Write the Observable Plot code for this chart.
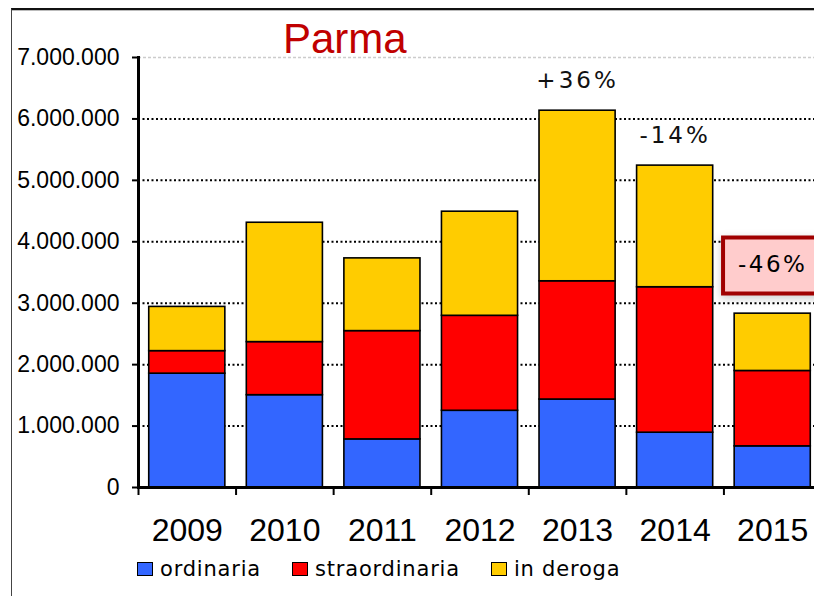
<!DOCTYPE html>
<html>
<head>
<meta charset="utf-8">
<script src="https://cdn.jsdelivr.net/npm/d3@7"></script>
<script src="https://cdn.jsdelivr.net/npm/@observablehq/plot@0.6"></script>
<style>
  html, body { margin: 0; padding: 0; background: #fff; }
  body { width: 814px; height: 596px; position: relative; overflow: hidden; }
  #frame { position: absolute; left: 11px; top: 8px; width: 900px; height: 700px;
           border-top: 2px solid #111; border-left: 1px solid #444; box-shadow: inset 0 1px 0 #bbb; }
  #chart { position: absolute; left: 0; top: 0; }
  #title { position: absolute; left: 283px; top: 18px; font: 42px/42px "Liberation Sans", Arial, sans-serif; color: #C00000; }
  #legend { position: absolute; left: 137px; top: 559px; display: flex; gap: 31px;
            font: 21px/21px "DejaVu Sans", sans-serif; letter-spacing: 0.8px; color: #000; }
  .item { display: flex; align-items: flex-start; }
  .sw { width: 14px; height: 12px; border: 1.5px solid #000; margin-top: 3px; margin-right: 7px; }
  #chart [aria-label="text"] text { letter-spacing: 3px; }
  #chart [aria-label="tip"] text { letter-spacing: 2.5px; }
  #chart g[aria-label="tip"] { filter: none !important; }
</style>
</head>
<body>
<div id="frame"></div>
<div id="chart"></div>
<div id="title">Parma</div>
<div id="legend"></div>
<script>
const years = ["2009", "2010", "2011", "2012", "2013", "2014", "2015"];
const seriesNames = ["ordinaria", "straordinaria", "in deroga"];
const seriesColors = ["#3366FF", "#FF0000", "#FFCC00"];
const ordinaria     = [1853000, 1503000,  783000, 1249000, 1432000,  892000,  670000];
const straordinaria = [ 367000,  864000, 1763000, 1546000, 1925000, 2368000, 1227000];
const inDeroga      = [ 720000, 1943000, 1184000, 1695000, 2777000, 1980000,  933000];
const yTicks = [0, 1000000, 2000000, 3000000, 4000000, 5000000, 6000000, 7000000];
const changeYears = ["2013", "2014"];
const changeLabels = ["+36%", "-14%"];
const highlightYear = "2015";
const highlightLabel = "-46%";

const seriesValues = [ordinaria, straordinaria, inDeroga];
const rows = [];
seriesNames.forEach((s, i) => years.forEach((y, j) => rows.push({year: y, serie: s, value: seriesValues[i][j]})));
const total = y => { const j = years.indexOf(y); return ordinaria[j] + straordinaria[j] + inDeroga[j]; };
const changes = changeYears.map((y, i) => ({year: y, total: total(y), label: changeLabels[i]}));
const highlight = [{year: highlightYear, total: total(highlightYear), label: highlightLabel}];

const fmt = d3.formatLocale({decimal: ",", thousands: ".", grouping: [3], currency: ["", ""]}).format(",");

const W = 814, H = 560, mL = 138, mR = -7;
const step = (W - mR - mL) / years.length;

const plot = Plot.plot({
  width: W, height: H,
  marginTop: 57, marginBottom: 73, marginLeft: mL, marginRight: mR,
  style: {fontFamily: "'Liberation Sans', Arial, sans-serif", color: "#000", background: "transparent", overflow: "visible"},
  x: {domain: years, paddingInner: 0.22, paddingOuter: 0.11, round: false, label: null},
  y: {domain: [0, 7000000], label: null},
  color: {domain: seriesNames, range: seriesColors},
  marks: [
    Plot.ruleY(yTicks.filter(d => d > 0 && d < 7000000), {stroke: "#000", strokeWidth: 2, strokeDasharray: "2,2.5"}),
    Plot.ruleY([7000000], {stroke: "#ccc", strokeWidth: 1.5, strokeDasharray: "3,2"}),
    Plot.barY(rows, {x: "year", y: "value", fill: "serie", stroke: "#000", strokeWidth: 1.6, order: seriesNames}),
    Plot.axisY({ticks: yTicks, tickFormat: fmt, tickSize: 6, tickPadding: 13, fontSize: 23, strokeWidth: 2, label: null}),
    Plot.axisX({ticks: years, tickSize: 8, text: null, dx: -step / 2, strokeWidth: 2, label: null}),
    Plot.axisX({ticks: years, tickSize: 0, tickPadding: 31, fontSize: 32, label: null}),
    Plot.frame({anchor: "left", strokeWidth: 3}),
    Plot.frame({anchor: "bottom", strokeWidth: 3}),
    Plot.text(changes, {x: "year", y: "total", text: "label", dy: -30, fontSize: 23, fontFamily: "DejaVu Sans", fill: "#111"}),
    Plot.tip(highlight, {x: "year", y: "total", title: "label", anchor: "bottom", pointerSize: 0, dy: -20,
      fill: "#FFCCCC", stroke: "#A00000", strokeWidth: 4, fontSize: 23, fontFamily: "DejaVu Sans", textPadding: 15})
  ]
});
document.getElementById("chart").appendChild(plot);

const legend = document.getElementById("legend");
seriesNames.forEach((s, i) => {
  const it = document.createElement("div"); it.className = "item";
  const sw = document.createElement("div"); sw.className = "sw"; sw.style.background = seriesColors[i];
  const t = document.createElement("span"); t.textContent = s;
  it.appendChild(sw); it.appendChild(t); legend.appendChild(it);
});
</script>
</body>
</html>
